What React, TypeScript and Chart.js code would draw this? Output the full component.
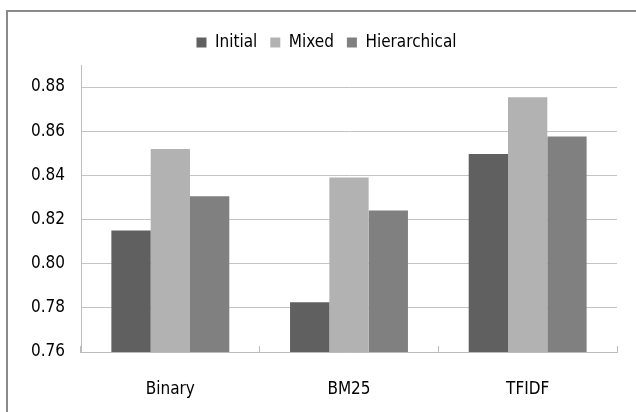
import React, { useEffect, useRef } from "react";
import { Chart, registerables } from "chart.js";

Chart.register(...registerables);

const categories = ["Binary", "BM25", "TFIDF"];
const seriesNames = ["Initial", "Mixed", "Hierarchical"];
const initialValues = [0.815, 0.7825, 0.8497];
const mixedValues = [0.852, 0.839, 0.8754];
const hierarchicalValues = [0.8305, 0.8241, 0.8576];
const seriesColors = ["#606060", "#b2b2b2", "#808080"];
const yMin = 0.76;
const yMax = 0.89;
const yStep = 0.02;
const yLastTick = 0.88;

const FONT_FAMILY = "'DejaVu Sans Condensed', 'Liberation Sans', sans-serif";
const FONT_SIZE = 17;

// legend placement tweak (Excel centres the legend over the whole chart object)
const LEGEND_SHIFT_X = 18;
const LEGEND_SHIFT_Y = -4;

const legendShift = {
  id: "legendShift",
  beforeDraw(chart: any) {
    const lg = chart.legend;
    if (!lg || lg._shifted) return;
    lg.left += LEGEND_SHIFT_X;
    lg.right += LEGEND_SHIFT_X;
    lg.top += LEGEND_SHIFT_Y;
    lg.bottom += LEGEND_SHIFT_Y;
    lg._shifted = true;
  },
};

export default function App() {
  const canvasRef = useRef<HTMLCanvasElement | null>(null);

  useEffect(() => {
    const canvas = canvasRef.current;
    if (!canvas) return;
    const seriesValues = [initialValues, mixedValues, hierarchicalValues];
    const chart = new Chart(canvas, {
      type: "bar",
      data: {
        labels: categories,
        datasets: seriesNames.map((name, i) => ({
          label: name,
          data: seriesValues[i],
          backgroundColor: seriesColors[i],
          borderWidth: 0,
          categoryPercentage: 0.66,
          barPercentage: 1.0,
        })),
      },
      plugins: [legendShift],
      options: {
        responsive: false,
        animation: false,
        devicePixelRatio: 1,
        layout: { padding: { left: 0, right: 19, top: 25, bottom: 0 } },
        font: { family: FONT_FAMILY, size: FONT_SIZE },
        color: "#000000",
        plugins: {
          legend: {
            position: "top",
            align: "center",
            labels: {
              boxWidth: 10,
              boxHeight: 10,
              padding: 13,
              color: "#000000",
              font: { family: FONT_FAMILY, size: FONT_SIZE },
            },
          },
          tooltip: { enabled: false },
        },
        scales: {
          x: {
            grid: {
              display: true,
              drawOnChartArea: false,
              drawTicks: true,
              tickLength: -6,
              color: "#bcbcbc",
              offset: true,
            },
            border: { display: true, color: "#bcbcbc", width: 1 },
            ticks: {
              color: "#000000",
              font: { family: FONT_FAMILY, size: FONT_SIZE },
              padding: 33,
            },
            afterFit: (scale: any) => {
              scale.height = 60;
            },
          },
          y: {
            min: yMin,
            max: yMax,
            grid: {
              color: "#c4c4c4",
              drawTicks: false,
            },
            border: { display: true, color: "#bcbcbc", width: 1 },
            ticks: {
              stepSize: yStep,
              color: "#000000",
              padding: 16,
              font: { family: FONT_FAMILY, size: FONT_SIZE },
              callback: (v: any) => Number(v).toFixed(2),
            },
            afterBuildTicks: (scale: any) => {
              scale.ticks = scale.ticks.filter((t: any) => t.value <= yLastTick + 1e-6);
            },
            afterFit: (scale: any) => {
              scale.width = 81;
            },
          },
        },
      },
    });
    return () => chart.destroy();
  }, []);

  return (
    <div
      style={{
        position: "fixed",
        left: 0,
        top: 0,
        width: 636,
        height: 412,
        overflow: "hidden",
        background: "#ffffff",
      }}
    >
      <div
        style={{
          position: "absolute",
          left: 6,
          top: 10,
          width: 660,
          height: 440,
          borderLeft: "2px solid #8a8a8a",
          borderTop: "2px solid #8a8a8a",
          boxSizing: "border-box",
        }}
      />
      <canvas
        ref={canvasRef}
        width={636}
        height={412}
        style={{ position: "absolute", left: 0, top: 0, width: 636, height: 412 }}
      />
    </div>
  );
}
